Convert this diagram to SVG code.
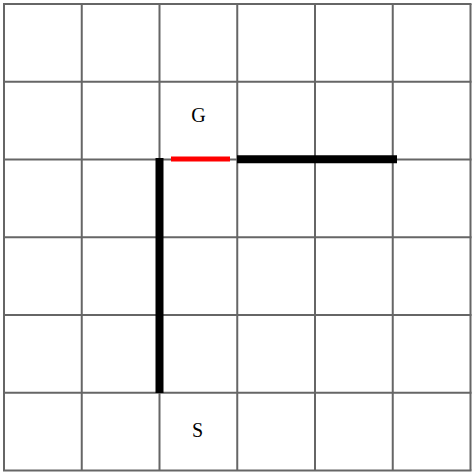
<svg xmlns="http://www.w3.org/2000/svg" width="475" height="476" viewBox="0 0 475 476">
<style>
.grid line{stroke:#666;stroke-width:2}
.lbl{font-family:"Liberation Serif","Times New Roman",serif;font-size:20px;fill:#000;text-anchor:middle}
.wall{stroke:#000;stroke-width:8}
</style>
<rect width="475" height="476" fill="#fff"/>
<g class="grid" id="grid">
<line x1="4" y1="4" x2="4" y2="470.5"/>
<line x1="81.75" y1="4" x2="81.75" y2="470.5"/>
<line x1="159.5" y1="4" x2="159.5" y2="470.5"/>
<line x1="237.25" y1="4" x2="237.25" y2="470.5"/>
<line x1="315" y1="4" x2="315" y2="470.5"/>
<line x1="392.75" y1="4" x2="392.75" y2="470.5"/>
<line x1="470.5" y1="4" x2="470.5" y2="470.5"/>
<line x1="3" y1="4" x2="471.5" y2="4"/>
<line x1="3" y1="81.75" x2="471.5" y2="81.75"/>
<line x1="3" y1="159.5" x2="471.5" y2="159.5"/>
<line x1="3" y1="237.25" x2="471.5" y2="237.25"/>
<line x1="3" y1="315" x2="471.5" y2="315"/>
<line x1="3" y1="392.75" x2="471.5" y2="392.75"/>
<line x1="3" y1="470.5" x2="471.5" y2="470.5"/>
</g>
<g id="connectors">
<line class="wall" x1="159.5" y1="158" x2="159.5" y2="393"/>
<line class="wall" x1="237" y1="159.3" x2="397" y2="159.3"/>
<line x1="171" y1="159" x2="230" y2="159" stroke="#f00" stroke-width="5"/>
</g>
<g id="G"><text class="lbl" x="198.5" y="121.5">G</text></g>
<g id="S"><text class="lbl" x="197.5" y="436.5">S</text></g>
</svg>
